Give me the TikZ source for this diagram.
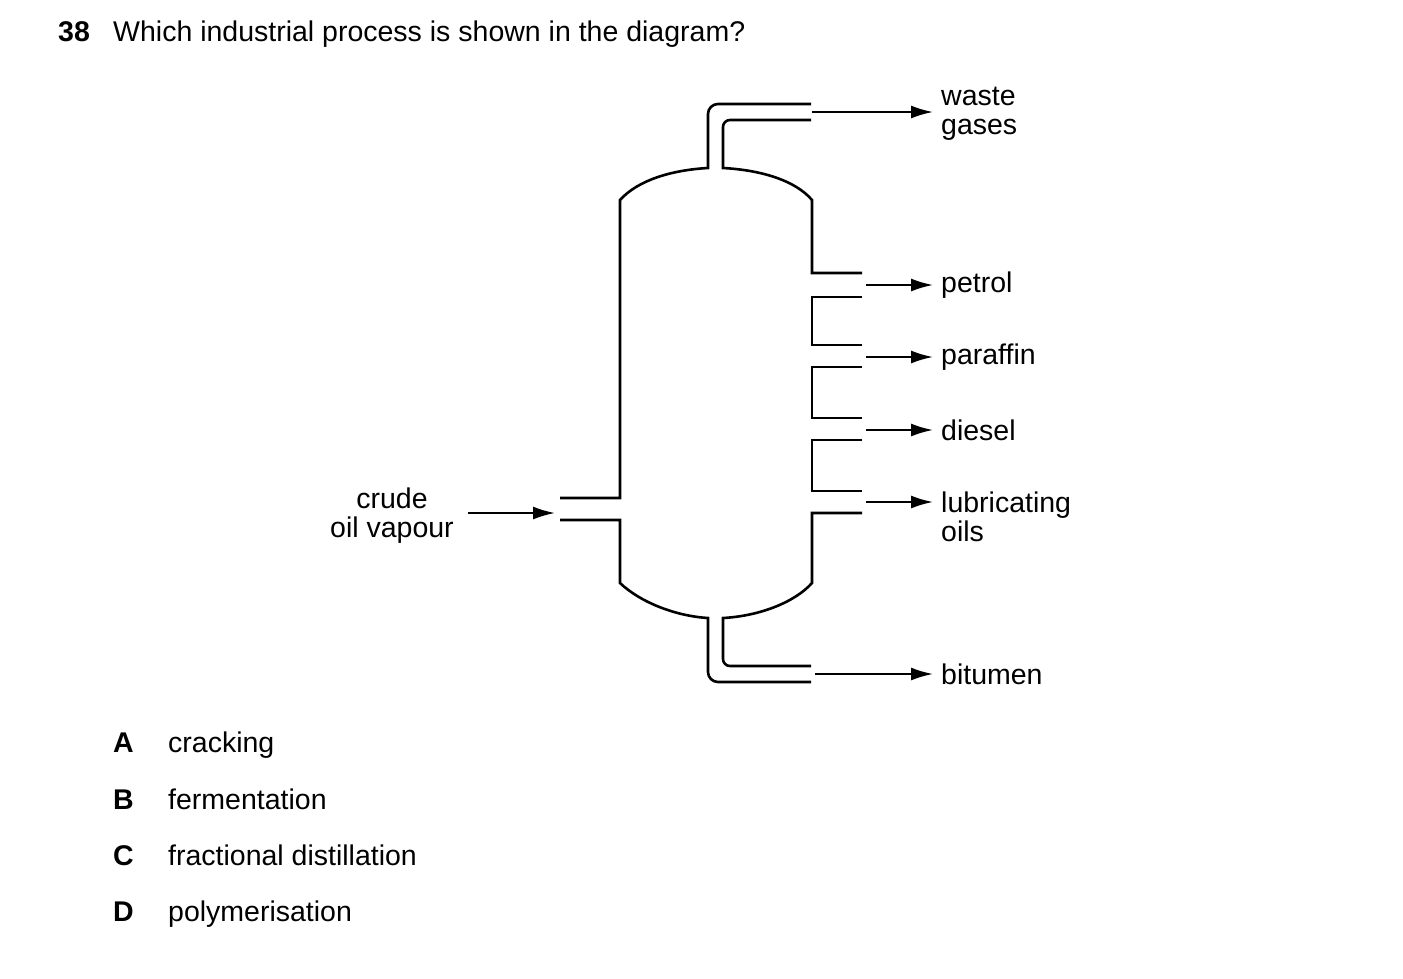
\documentclass[tikz,border=0pt]{standalone}
\usepackage{fontspec}
\setmainfont{Liberation Sans}
\usetikzlibrary{arrows.meta}
\tikzset{
  wall/.style={line width=2.6pt, line join=miter},
  flow/.style={line width=2pt, shorten >=8pt, -{Latex[length=22pt,width=13pt]}},
  lbl/.style={anchor=west, inner sep=0pt, font=\fontsize{28.5}{29}\selectfont, align=left},
  txt/.style={anchor=base west, inner sep=0pt, font=\fontsize{28.5}{33}\selectfont}
}
\begin{document}
\begin{tikzpicture}[x=1pt, y=-1pt]
\useasboundingbox (0,0) rectangle (1403,978);
% question and answers
\node [txt, font=\bfseries\fontsize{28.5}{33}\selectfont] (Q) at (58,41) {38};
\node [txt] (Qt) at (113,41) {Which industrial process is shown in the diagram?};
\node [txt, font=\bfseries\fontsize{28.5}{33}\selectfont] (A) at (113,752) {A};
\node [txt] (At) at (168,752) {cracking};
\node [txt, font=\bfseries\fontsize{28.5}{33}\selectfont] (B) at (113,809) {B};
\node [txt] (Bt) at (168,809) {fermentation};
\node [txt, font=\bfseries\fontsize{28.5}{33}\selectfont] (C) at (113,865) {C};
\node [txt] (Ct) at (168,865) {fractional distillation};
\node [txt, font=\bfseries\fontsize{28.5}{33}\selectfont] (D) at (113,921) {D};
\node [txt] (Dt) at (168,921) {polymerisation};

% column walls
\draw [wall] (811,104) -- (718,104) arc[start angle=-90, end angle=-180, radius=10] -- (708,168)
  .. controls (672,170) and (638,180) .. (620,200) -- (620,498) -- (560,498);
\draw [wall] (811,120) -- (730,120) arc[start angle=-90, end angle=-180, radius=7] -- (723,168)
  .. controls (760,170) and (795,180) .. (812,200) -- (812,273) -- (862,273);
\draw [wall] (862,297) -- (812,297) -- (812,345) -- (862,345);
\draw [wall] (862,367) -- (812,367) -- (812,418) -- (862,418);
\draw [wall] (862,440) -- (812,440) -- (812,491) -- (862,491);
\draw [wall] (560,520) -- (620,520) -- (620,583)
  .. controls (640,602) and (675,616) .. (708,618) -- (708,672) arc[start angle=180, end angle=90, radius=10] -- (811,682);
\draw [wall] (862,513) -- (812,513) -- (812,583)
  .. controls (795,602) and (760,616) .. (723,618) -- (723,659) arc[start angle=180, end angle=90, radius=7] -- (811,666);

% labels
\node [lbl] (waste) at (941,114) {waste\\gases};
\node [lbl] (petrol) at (941,285) {petrol};
\node [lbl] (paraffin) at (941,357) {paraffin};
\node [lbl] (diesel) at (941,430) {diesel};
\node [lbl] (lub) at (941,517) {lubricating\\oils};
\node [lbl] (bitumen) at (941,674) {bitumen};
\node [inner sep=0pt, align=center, font=\fontsize{28.5}{29}\selectfont] (crude) at (392,516) {crude\\oil vapour};

% outlets
\coordinate (w0) at (812,112);
\coordinate (p0) at (866,285);
\coordinate (f0) at (866,357);
\coordinate (d0) at (866,430);
\coordinate (l0) at (866,502);
\coordinate (b0) at (815,674);
\coordinate (c0) at (468,513);
\coordinate (c1) at (563,513);
\draw [flow] (w0) -- (waste.west |- w0);
\draw [flow] (p0) -- (petrol.west);
\draw [flow] (f0) -- (paraffin.west);
\draw [flow] (d0) -- (diesel.west);
\draw [flow] (l0) -- (lub.west |- l0);
\draw [flow] (b0) -- (bitumen.west);
\draw [flow] (c0) -- (c1);
\end{tikzpicture}
\end{document}
